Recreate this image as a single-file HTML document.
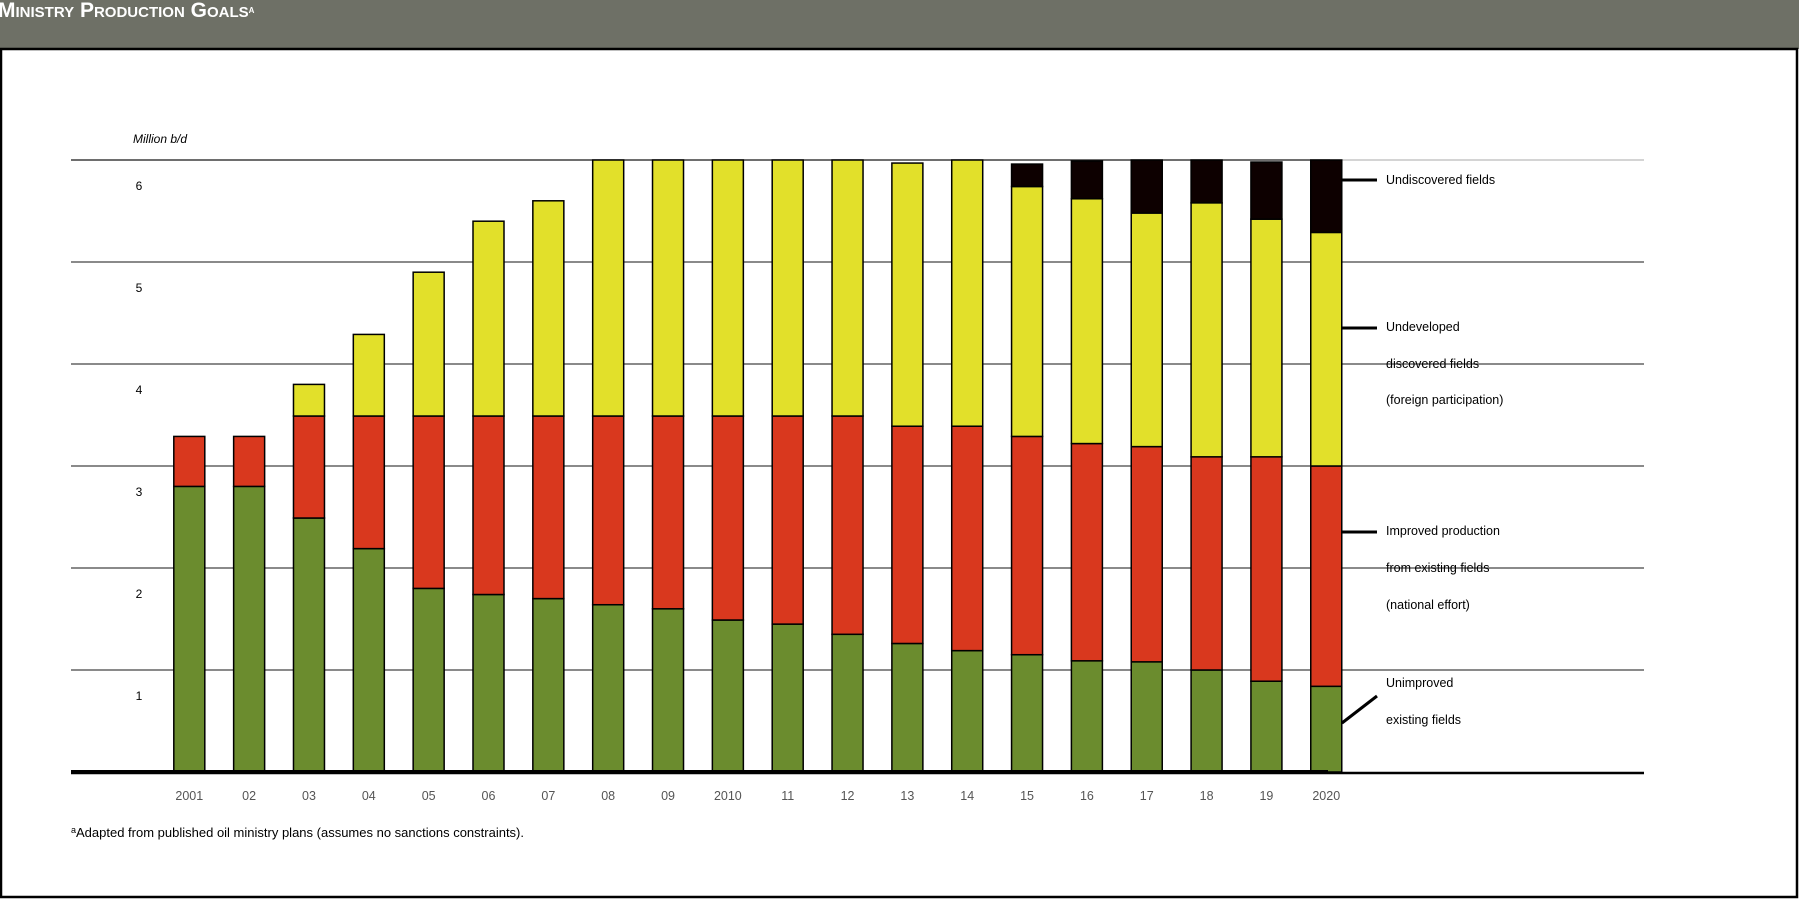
<!DOCTYPE html>
<html><head><meta charset="utf-8"><style>
html,body{margin:0;padding:0;background:#fff;width:1799px;height:899px;overflow:hidden}
svg{display:block;font-family:"Liberation Sans",sans-serif}
</style></head><body>
<svg id="chart" width="1799" height="899" viewBox="0 0 1799 899">
<rect x="0" y="0" width="1799" height="49" fill="#6e7066"/>
<rect x="1" y="49" width="1796" height="848" fill="#fff" stroke="#000" stroke-width="2.5"/>
<text x="-2" y="17" fill="#fff" font-weight="bold" font-size="21" style="font-variant:small-caps">Ministry Production Goals<tspan font-size="12" dy="-4">a</tspan></text>
<text x="133" y="143" font-size="12" font-style="italic">Million b/d</text>
<g id="grid"></g>
<g id="bars"></g>
<g id="xlabels"></g>
<g id="legend"></g>
<text x="71" y="837" font-size="13"><tspan font-size="9" dy="-4">a</tspan><tspan dy="4">Adapted from published oil ministry plans (assumes no sanctions constraints).</tspan></text>
</svg>
<script>
const categories=["2001","02","03","04","05","06","07","08","09","2010","11","12","13","14","15","16","17","18","19","2020"];
const unimproved=[2.80,2.80,2.49,2.19,1.80,1.74,1.70,1.64,1.60,1.49,1.45,1.35,1.26,1.19,1.15,1.09,1.08,1.00,0.89,0.84];
const improved=[0.49,0.49,1.00,1.30,1.69,1.75,1.79,1.85,1.89,2.00,2.04,2.14,2.13,2.20,2.14,2.13,2.11,2.09,2.20,2.16];
const undeveloped=[0,0,0.31,0.80,1.41,1.91,2.11,2.51,2.51,2.51,2.51,2.51,2.58,2.61,2.45,2.40,2.29,2.49,2.33,2.29];
const undiscovered=[0,0,0,0,0,0,0,0,0,0,0,0,0,0,0.22,0.37,0.52,0.42,0.56,0.71];
const yTicks=[1,2,3,4,5,6];
const NS="http://www.w3.org/2000/svg";
const y0=772,unit=102,x0=189.3,step=59.84,bw=31;
const ys=v=>y0-v*unit, xs=i=>x0+i*step;
function mk(tag,attrs,parent){const e=document.createElementNS(NS,tag);for(const k in attrs)e.setAttribute(k,attrs[k]);parent.appendChild(e);return e;}
const grid=document.getElementById('grid');
yTicks.forEach(t=>{
 const l=mk('line',{x1:71,x2:1644,y1:ys(t),y2:ys(t),stroke:t===6?'#bbb':'#444','stroke-width':1.3},grid);
 
 
 if(t===6){const l2=mk('line',{x1:71,x2:1330,y1:ys(t),y2:ys(t),stroke:'#222','stroke-width':1.3},grid);
 
 }
 const tx=mk('text',{x:139,y:ys(t)+30,'font-size':12,'text-anchor':'middle'},grid);tx.textContent=t;
 
 
});
const bars=document.getElementById('bars');
const series=[[unimproved,'#6b8c2e','unimproved'],[improved,'#d9381e','improved'],[undeveloped,'#e2e02a','undeveloped'],[undiscovered,'#0d0000','undiscovered']];
categories.forEach((c,i)=>{
 let base=0;
 series.forEach(([arr,col,nm])=>{
  const v=arr[i];if(v<=0)return;
  const r=mk('rect',{x:xs(i)-bw/2,y:ys(base+v),width:bw,height:v*unit,fill:col,stroke:'#000','stroke-width':1.5},bars);
  
  
  base+=v;
 });
 const t=mk('text',{x:xs(i),y:800,'font-size':12.5,fill:'#555','text-anchor':'middle'},document.getElementById('xlabels'));t.textContent=c;
 
 
});
const ax=mk('line',{x1:71,x2:1644,y1:773,y2:773,stroke:'#000','stroke-width':2.5},bars);


const ax2=mk('line',{x1:71,x2:1328,y1:772,y2:772,stroke:'#000','stroke-width':4},bars);


const leg=document.getElementById('legend');
const entries=[
 ['undiscovered',[[1342,180,1377,180]],[['Undiscovered fields',184]]],
 ['undeveloped',[[1342,328,1377,328]],[['Undeveloped',331],['discovered fields',368],['(foreign participation)',404]]],
 ['improved',[[1342,532,1377,532]],[['Improved production',535],['from existing fields',572],['(national effort)',609]]],
 ['unimproved',[[1342,723,1377,696]],[['Unimproved',687],['existing fields',724]]]
];
entries.forEach(([nm,lines,texts])=>{
 lines.forEach(([a,b,c,d])=>{const l=mk('line',{x1:a,y1:b,x2:c,y2:d,stroke:'#000','stroke-width':3},leg);
 
 });
 texts.forEach(([s,y])=>{const t=mk('text',{x:1386,y:y,'font-size':12.5},leg);t.textContent=s;
 
 });
});
</script>
</body></html>
